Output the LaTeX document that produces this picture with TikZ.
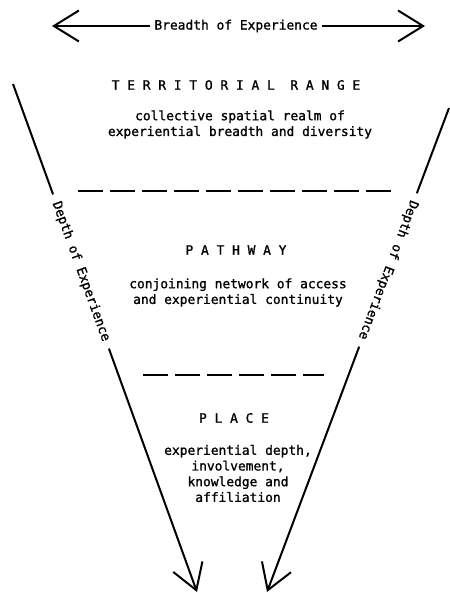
\documentclass[tikz,border=0pt]{standalone}
\usepackage{fontspec}
\setmonofont[FakeBold=1.2]{DejaVu Sans Mono}
\usetikzlibrary{arrows.meta}
\begin{document}
\begin{tikzpicture}[x=1pt,y=-1pt,
  lbl/.style={font=\ttfamily\fontsize{12.9}{15.7}\selectfont, inner sep=0pt, align=center},
  main/.style={line width=2pt},
  tip/.style={-{Straight Barb[length=25pt,width=31pt]}},
  sep/.style={line width=1.3pt, dash pattern=on 25pt off 7pt}]
\useasboundingbox (0,0) rectangle (449,593);
% top arrow
\node[lbl, inner xsep=4pt] (breadth) at (236,26) {Breadth of Experience};
\coordinate (bl) at (52,26);
\coordinate (br) at (425,26);
\draw[main, tip] (breadth.west) -- (bl);
\draw[main, tip] (breadth.east) -- (br);
% territorial range
\node[lbl] (terr) at (236,85) {T E R R I T O R I A L\ \ R A N G E};
\node[lbl] (terrtxt) at (240,124.5) {collective spatial realm of\\experiential breadth and diversity};
\coordinate (d1a) at (78,191);
\coordinate (d1b) at (393,191);
\draw[sep] (d1a) -- (d1b);
% pathway
\node[lbl] (path) at (236,250) {P A T H W A Y};
\node[lbl] (pathtxt) at (238,292.5) {conjoining network of access\\and experiential continuity};
\coordinate (d2a) at (143,375);
\coordinate (d2b) at (324,375);
\draw[sep] (d2a) -- (d2b);
% place
\node[lbl] (place) at (234,418) {P L A C E};
\node[lbl] (placetxt) at (238,473.5) {experiential depth,\\involvement,\\knowledge and\\affiliation};
% left depth line
\coordinate (L0) at (13,84);
\coordinate (Ltip) at (197,592);
\node[lbl, rotate=-70.1, inner xsep=8pt] (ldepth) at (81,271.5) {Depth of Experience};
\draw[main] (L0) -- (ldepth.west);
\draw[main, tip] (ldepth.east) -- (Ltip);
% right depth line
\coordinate (R0) at (449,108);
\coordinate (Rtip) at (267,592);
\node[lbl, rotate=-110.6, inner xsep=8pt] (rdepth) at (388,270) {Depth of Experience};
\draw[main] (R0) -- (rdepth.west);
\draw[main, tip] (rdepth.east) -- (Rtip);
\end{tikzpicture}
\end{document}
